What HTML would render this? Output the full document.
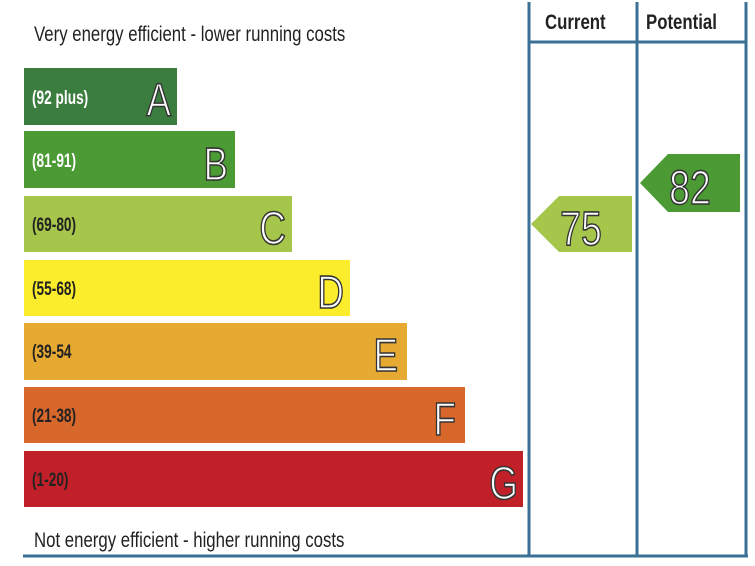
<!DOCTYPE html>
<html><head><style>body{margin:0;background:#fff}svg{display:block}</style></head>
<body>
<svg width="755" height="566" viewBox="0 0 755 566" xmlns="http://www.w3.org/2000/svg" font-family="Liberation Sans, sans-serif">
<g stroke="#3a6f96" stroke-width="3">
<line x1="529" y1="2" x2="529" y2="557"/>
<line x1="637" y1="2" x2="637" y2="557"/>
<line x1="746" y1="2" x2="746" y2="557"/>
<line x1="529" y1="42" x2="746" y2="42"/>
<line x1="23" y1="556" x2="748" y2="556"/>
</g>
<g fill="#222" font-size="21">
<text transform="translate(34,41) scale(0.8,1)">Very energy efficient - lower running costs</text>
<text transform="translate(34,547) scale(0.8,1)">Not energy efficient - higher running costs</text>
<text transform="translate(545,29) scale(0.8,1)" font-weight="bold">Current</text>
<text transform="translate(646,29) scale(0.8,1)" font-weight="bold">Potential</text>
</g>
<rect x="24" y="68" width="153" height="57" fill="#3b7d3f"/>
<rect x="24" y="131" width="211" height="57" fill="#4c9a34"/>
<rect x="24" y="196" width="268" height="56" fill="#a5c64a"/>
<rect x="24" y="260" width="326" height="56" fill="#fbec2c"/>
<rect x="24" y="323" width="383" height="57" fill="#e6a932"/>
<rect x="24" y="387" width="441" height="56" fill="#d8672c"/>
<rect x="24" y="451" width="499" height="56" fill="#c12028"/>
<g font-size="19" font-weight="bold">
<text transform="translate(32,104) scale(0.72,1)" fill="#fff">(92 plus)</text>
<text transform="translate(32,167) scale(0.72,1)" fill="#fff">(81-91)</text>
<text transform="translate(32,231) scale(0.72,1)" fill="#222">(69-80)</text>
<text transform="translate(32,295) scale(0.72,1)" fill="#222">(55-68)</text>
<text transform="translate(32,358) scale(0.72,1)" fill="#222">(39-54</text>
<text transform="translate(32,422) scale(0.72,1)" fill="#222">(21-38)</text>
<text transform="translate(32,486) scale(0.72,1)" fill="#222">(1-20)</text>
</g>
<g font-size="46" fill="#fff" stroke="#333" stroke-width="1.6" text-anchor="end">
<text transform="translate(171,116) scale(0.8,1)">A</text>
<text transform="translate(228,180) scale(0.8,1)">B</text>
<text transform="translate(286,244) scale(0.8,1)">C</text>
<text transform="translate(344,308) scale(0.8,1)">D</text>
<text transform="translate(398,371) scale(0.8,1)">E</text>
<text transform="translate(456,435) scale(0.8,1)">F</text>
<text transform="translate(518,499) scale(0.8,1)">G</text>
</g>
<polygon points="531,224 559,196 632,196 632,252 559,252" fill="#a5c64a"/>
<polygon points="640,183 668,154 740,154 740,212 668,212" fill="#4c9a34"/>
<g font-size="48" fill="#fff" stroke="#333" stroke-width="1.6" text-anchor="middle">
<text transform="translate(581,245) scale(0.78,1)">75</text>
<text transform="translate(690,204) scale(0.78,1)">82</text>
</g>
</svg>
</body></html>
